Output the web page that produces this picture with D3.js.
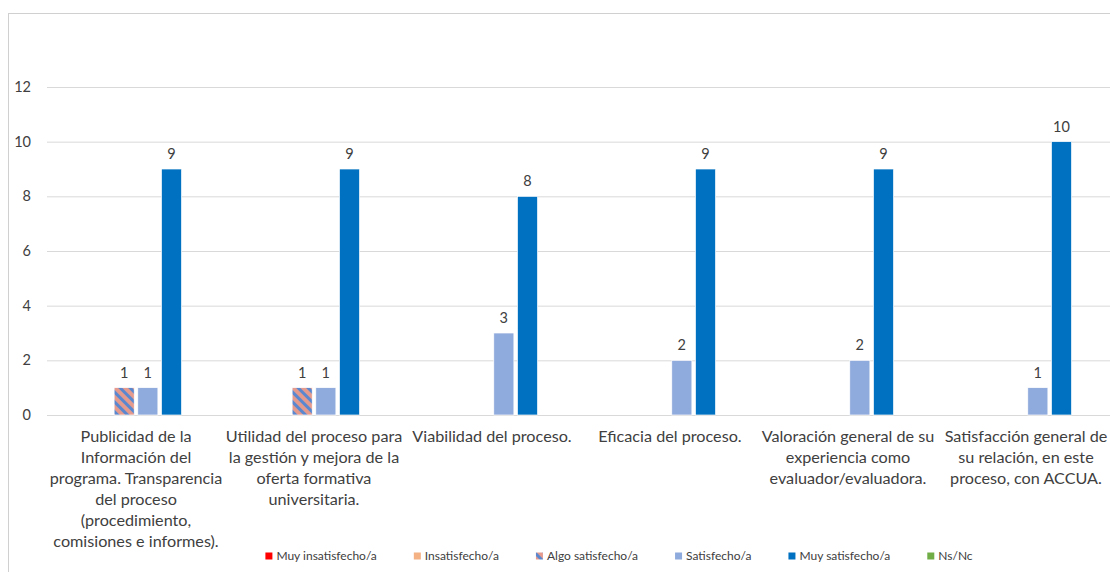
<!DOCTYPE html>
<html>
<head>
<meta charset="utf-8">
<script src="https://cdn.jsdelivr.net/npm/d3@7"></script>
<style>
  body { margin: 0; background: #fff; }
  svg { display: block; font-family: Lato, "Open Sans", sans-serif; }
</style>
</head>
<body>
<div id="wrap"></div>
<script>
// category labels, already broken into lines as in the reference
const categories = [
    ["Publicidad de la", "Información del", "programa. Transparencia", "del proceso", "(procedimiento,", "comisiones e informes)."],
    ["Utilidad del proceso para", "la gestión y mejora de la", "oferta formativa", "universitaria."],
    ["Viabilidad del proceso."],
    ["Eficacia del proceso."],
    ["Valoración general de su", "experiencia como", "evaluador/evaluadora."],
    ["Satisfacción general de", "su relación, en este", "proceso, con ACCUA."]
];

const seriesNames = ["Muy insatisfecho/a", "Insatisfecho/a", "Algo satisfecho/a", "Satisfecho/a", "Muy satisfecho/a", "Ns/Nc"];

const muyInsatisfecho = [0, 0, 0, 0, 0, 0];
const insatisfecho    = [0, 0, 0, 0, 0, 0];
const algoSatisfecho  = [1, 1, 0, 0, 0, 0];
const satisfecho      = [1, 1, 3, 2, 2, 1];
const muySatisfecho   = [9, 9, 8, 9, 9, 10];
const nsNc            = [0, 0, 0, 0, 0, 0];

const yTicks = [0, 2, 4, 6, 8, 10, 12];

const seriesValues = [muyInsatisfecho, insatisfecho, algoSatisfecho, satisfecho, muySatisfecho, nsNc];
const colors = ["#FF0000", "#F4B183", "url(#hatch)", "#8FAADC", "#0070C0", "#70AD47"];

const width = 1110;
const height = 572;
const plot = { left: 47, right: 1115, top: 87, bottom: 415 };

const svg = d3.select("#wrap").append("svg")
    .attr("width", width)
    .attr("height", height);

// striped fill for "Algo satisfecho/a"
const defs = svg.append("defs");
const pat = defs.append("pattern")
    .attr("id", "hatch")
    .attr("patternUnits", "userSpaceOnUse")
    .attr("width", 7)
    .attr("height", 7)
    .attr("patternTransform", "rotate(-45)");
pat.append("rect").attr("width", 7).attr("height", 7).attr("fill", "#E59A8E");
pat.append("rect").attr("width", 3).attr("height", 7).attr("fill", "#5B87CF");

// chart frame
svg.append("rect")
    .attr("x", 8.5).attr("y", 13.5)
    .attr("width", 1300).attr("height", 700)
    .attr("fill", "none")
    .attr("stroke", "#D0D0D0");

const y = d3.scaleLinear()
    .domain([0, 12])
    .range([plot.bottom, plot.top]);

const x0 = d3.scaleBand()
    .domain(d3.range(categories.length))
    .range([plot.left, plot.right]);

const x1 = d3.scaleBand()
    .domain(seriesNames)
    .range([18, 160])
    .paddingInner(0.15)
    .paddingOuter(0.075);

// gridlines + y labels
const yAxis = d3.axisLeft(y)
    .tickValues(yTicks)
    .tickSize(-(plot.right - plot.left))
    .tickPadding(16);

const gy = svg.append("g")
    .attr("transform", `translate(${plot.left},0)`)
    .call(yAxis);
gy.select(".domain").remove();
gy.selectAll(".tick line").attr("stroke", "#D9D9D9");
gy.selectAll(".tick text")
    .attr("fill", "#404040")
    .style("font-size", "14.5px")
    .style("font-family", "Lato, sans-serif");

// bars
const groups = svg.append("g")
    .selectAll("g")
    .data(categories)
    .join("g")
    .attr("transform", (d, i) => `translate(${x0(i)},0)`);

const cells = (d, i) => seriesNames.map((s, k) => ({ s, k, v: seriesValues[k][i] })).filter(e => e.v > 0);

groups.selectAll("rect")
    .data(cells)
    .join("rect")
    .attr("x", e => x1(e.s))
    .attr("y", e => y(e.v))
    .attr("width", x1.bandwidth())
    .attr("height", e => y(0) - y(e.v))
    .attr("fill", e => colors[e.k])
    .attr("stroke", "#fff")
    .attr("stroke-width", 0.7);

groups.selectAll("text.val")
    .data(cells)
    .join("text")
    .attr("class", "val")
    .attr("x", e => x1(e.s) + x1.bandwidth() / 2)
    .attr("y", e => y(e.v) - 10)
    .attr("text-anchor", "middle")
    .attr("fill", "#404040")
    .style("font-size", "14.5px")
    .text(e => e.v);

// category labels
const catText = groups.append("text")
    .attr("text-anchor", "middle")
    .attr("fill", "#404040")
    .style("font-size", "16.2px");

catText.selectAll("tspan")
    .data(d => d)
    .join("tspan")
    .attr("x", x0.bandwidth() / 2)
    .attr("y", (d, j) => 442 + j * 21)
    .text(d => d);

// legend
const legend = svg.append("g").attr("transform", "translate(0,556)");
const items = legend.selectAll("g")
    .data(seriesNames)
    .join("g");

items.append("rect")
    .attr("y", -3.5)
    .attr("width", 7)
    .attr("height", 7)
    .attr("fill", (d, k) => colors[k]);

items.append("text")
    .attr("x", 11)
    .attr("y", 4)
    .attr("fill", "#404040")
    .style("font-size", "12px")
    .text(d => d);

let cx = 0;
const offs = [];
items.each(function () {
    offs.push(cx);
    cx += 11 + this.querySelector("text").getComputedTextLength() + 37;
});
const total = cx - 37;
const start = 619 - total / 2;
items.attr("transform", (d, k) => `translate(${start + offs[k]},0)`);
</script>
</body>
</html>
